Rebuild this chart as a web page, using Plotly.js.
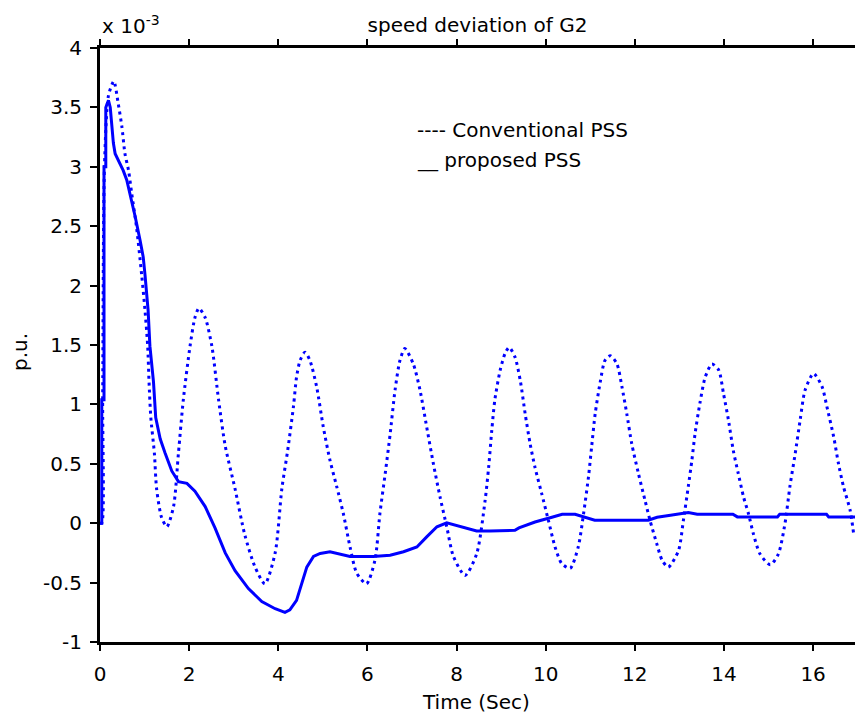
<!DOCTYPE html>
<html>
<head>
<meta charset="utf-8">
<script src="https://cdn.plot.ly/plotly-3.0.1.min.js"></script>
<style>
html,body{margin:0;padding:0;background:#fff;overflow:hidden;}
#chart{width:855px;height:720px;}
</style>
</head>
<body>
<div id="chart"></div>
<script>
// Time (s) and speed deviation (x 1e-3 p.u.)
const tConventional = [0,0.04,0.06,0.10,0.19,0.31,0.41,0.49,0.56,0.64,0.71,0.82,0.935,1.01,1.07,1.10,1.14,1.22,1.27,1.38,1.50,1.65,1.76,1.87,2.02,2.13,2.22,2.36,2.51,2.66,2.81,3.03,3.25,3.48,3.70,3.93,4.08,4.21,4.34,4.41,4.49,4.60,4.71,4.86,5.01,5.16,5.31,5.46,5.61,5.76,5.98,6.17,6.28,6.40,6.51,6.62,6.73,6.84,7.03,7.18,7.33,7.48,7.63,7.78,7.93,8.19,8.45,8.64,8.72,8.79,8.86,8.98,9.09,9.18,9.31,9.43,9.54,9.65,9.76,9.91,10.06,10.21,10.36,10.55,10.73,10.85,10.96,11.03,11.11,11.22,11.33,11.45,11.60,11.71,11.82,11.93,12.08,12.23,12.34,12.49,12.61,12.75,12.98,13.09,13.20,13.28,13.35,13.46,13.58,13.73,13.88,13.99,14.10,14.21,14.32,14.44,14.55,14.66,14.81,15.04,15.22,15.37,15.48,15.60,15.71,15.82,16.01,16.20,16.31,16.46,16.57,16.68,16.83,16.91];
const vConventional = [0,0,1.04,3.0,3.6,3.72,3.53,3.34,3.11,2.97,2.78,2.49,2.09,1.79,1.49,1.19,0.89,0.59,0.29,0.05,-0.03,0.14,0.59,1.04,1.49,1.73,1.81,1.73,1.49,1.04,0.65,0.29,-0.10,-0.37,-0.51,-0.25,0.29,0.61,0.98,1.23,1.37,1.44,1.37,1.15,0.81,0.53,0.31,0.08,-0.20,-0.42,-0.51,-0.31,0.08,0.42,0.75,1.12,1.37,1.47,1.34,1.12,0.81,0.50,0.22,-0.03,-0.28,-0.44,-0.26,0.19,0.47,0.78,1.04,1.29,1.43,1.48,1.40,1.20,0.92,0.67,0.47,0.25,0.025,-0.20,-0.34,-0.38,-0.20,0.08,0.39,0.64,0.92,1.18,1.37,1.41,1.34,1.15,0.92,0.67,0.42,0.19,0.025,-0.17,-0.31,-0.37,-0.23,0.025,0.31,0.53,0.75,1.01,1.23,1.34,1.29,1.09,0.87,0.61,0.42,0.22,0.08,-0.09,-0.26,-0.35,-0.26,0,0.31,0.59,0.87,1.12,1.26,1.15,0.98,0.73,0.50,0.31,0.11,-0.09];

const tProposed = [0,0.04,0.04,0.09,0.09,0.13,0.13,0.19,0.23,0.26,0.30,0.34,0.41,0.52,0.60,0.71,0.79,0.90,0.97,1.01,1.08,1.12,1.20,1.25,1.35,1.46,1.61,1.76,1.95,2.13,2.36,2.58,2.81,3.03,3.33,3.63,3.93,4.15,4.26,4.41,4.56,4.64,4.79,4.94,5.16,5.61,6.13,6.51,6.81,7.11,7.33,7.56,7.78,8.08,8.45,8.75,9.31,9.40,9.76,10.14,10.37,10.66,10.88,11.10,12.30,12.50,12.80,13.20,13.40,14.20,14.30,15.20,15.25,16.30,16.35,16.95];
const vProposed = [0,0,1.04,1.04,3.0,3.0,3.5,3.56,3.5,3.34,3.2,3.11,3.06,2.97,2.89,2.72,2.58,2.38,2.24,2.09,1.79,1.49,1.19,0.89,0.71,0.59,0.44,0.35,0.335,0.27,0.14,-0.04,-0.25,-0.40,-0.55,-0.66,-0.72,-0.75,-0.73,-0.65,-0.48,-0.37,-0.28,-0.255,-0.24,-0.28,-0.28,-0.27,-0.24,-0.20,-0.115,-0.03,0.003,-0.025,-0.065,-0.065,-0.06,-0.04,0.01,0.05,0.075,0.075,0.05,0.025,0.025,0.05,0.067,0.09,0.075,0.075,0.053,0.053,0.075,0.075,0.053,0.053];

const yTickVals = [-1,-0.5,0,0.5,1,1.5,2,2.5,3,3.5,4];
const yTickText = ["-1","-0.5","0","0.5","1","1.5","2","2.5","3","3.5","4"];
const xTickVals = [0,2,4,6,8,10,12,14,16];

const FONT = "DejaVu Sans, sans-serif";
const traces = [
  {x:tConventional, y:vConventional, type:"scatter", mode:"lines", name:"Conventional PSS",
   line:{color:"#0000ff", width:3, dash:"3px,4px", shape:"spline", smoothing:0.7}},
  {x:tProposed, y:vProposed, type:"scatter", mode:"lines", name:"proposed PSS",
   line:{color:"#0000ff", width:3, shape:"linear"}}
];

const layout = {
  width:855, height:720,
  margin:{l:100, r:0, t:48, b:78},
  paper_bgcolor:"#fff", plot_bgcolor:"#fff",
  showlegend:false,
  font:{family:FONT, size:20, color:"#000"},
  title:{text:"speed deviation of G2", font:{family:FONT, size:20, color:"#000"},
         xref:"paper", x:0.5, xanchor:"center", yref:"container", y:1-25/720, yanchor:"middle"},
  xaxis:{range:[0,16.94], tickvals:xTickVals, ticks:"outside", ticklen:6, tickwidth:2, tickcolor:"#000",
         ticklabelstandoff:6,
         showline:true, linewidth:3, linecolor:"#000", mirror:"ticks", showgrid:false, zeroline:false,
         tickfont:{family:FONT, size:20, color:"#000"}},
  yaxis:{range:[-1,4], tickvals:yTickVals, ticktext:yTickText, ticks:"outside", ticklen:7, tickwidth:2, tickcolor:"#000",
         ticklabelstandoff:4,
         showline:true, linewidth:3, linecolor:"#000", mirror:false, showgrid:false, zeroline:false,
         tickfont:{family:FONT, size:20, color:"#000"}},
  annotations:[
    {xref:"paper", yref:"paper", x:0, y:1, xanchor:"left", yanchor:"bottom", yshift:8, showarrow:false,
     text:"x 10<sup>-3</sup>", font:{family:FONT, size:20, color:"#000"}},
    {xref:"paper", yref:"paper", x:(415-100)/755, y:(642-130)/594, xanchor:"left", yanchor:"middle", showarrow:false,
     text:"---- Conventional PSS", font:{family:FONT, size:20, color:"#000"}},
    {xref:"paper", yref:"paper", x:(415-100)/755, y:(642-160)/594, xanchor:"left", yanchor:"middle", showarrow:false,
     text:"__ proposed PSS", font:{family:FONT, size:20, color:"#000"}},
    {xref:"paper", yref:"paper", x:(476-100)/755, y:(642-702)/594, xanchor:"center", yanchor:"middle", showarrow:false,
     text:"Time (Sec)", font:{family:FONT, size:20, color:"#000"}},
    {xref:"paper", yref:"paper", x:(20-100)/755, y:(642-352)/594, xanchor:"center", yanchor:"middle", showarrow:false,
     textangle:-90, text:"p.u.", font:{family:FONT, size:20, color:"#000"}}
  ]
};

Plotly.newPlot("chart", traces, layout, {staticPlot:true, displayModeBar:false});
</script>
</body>
</html>
